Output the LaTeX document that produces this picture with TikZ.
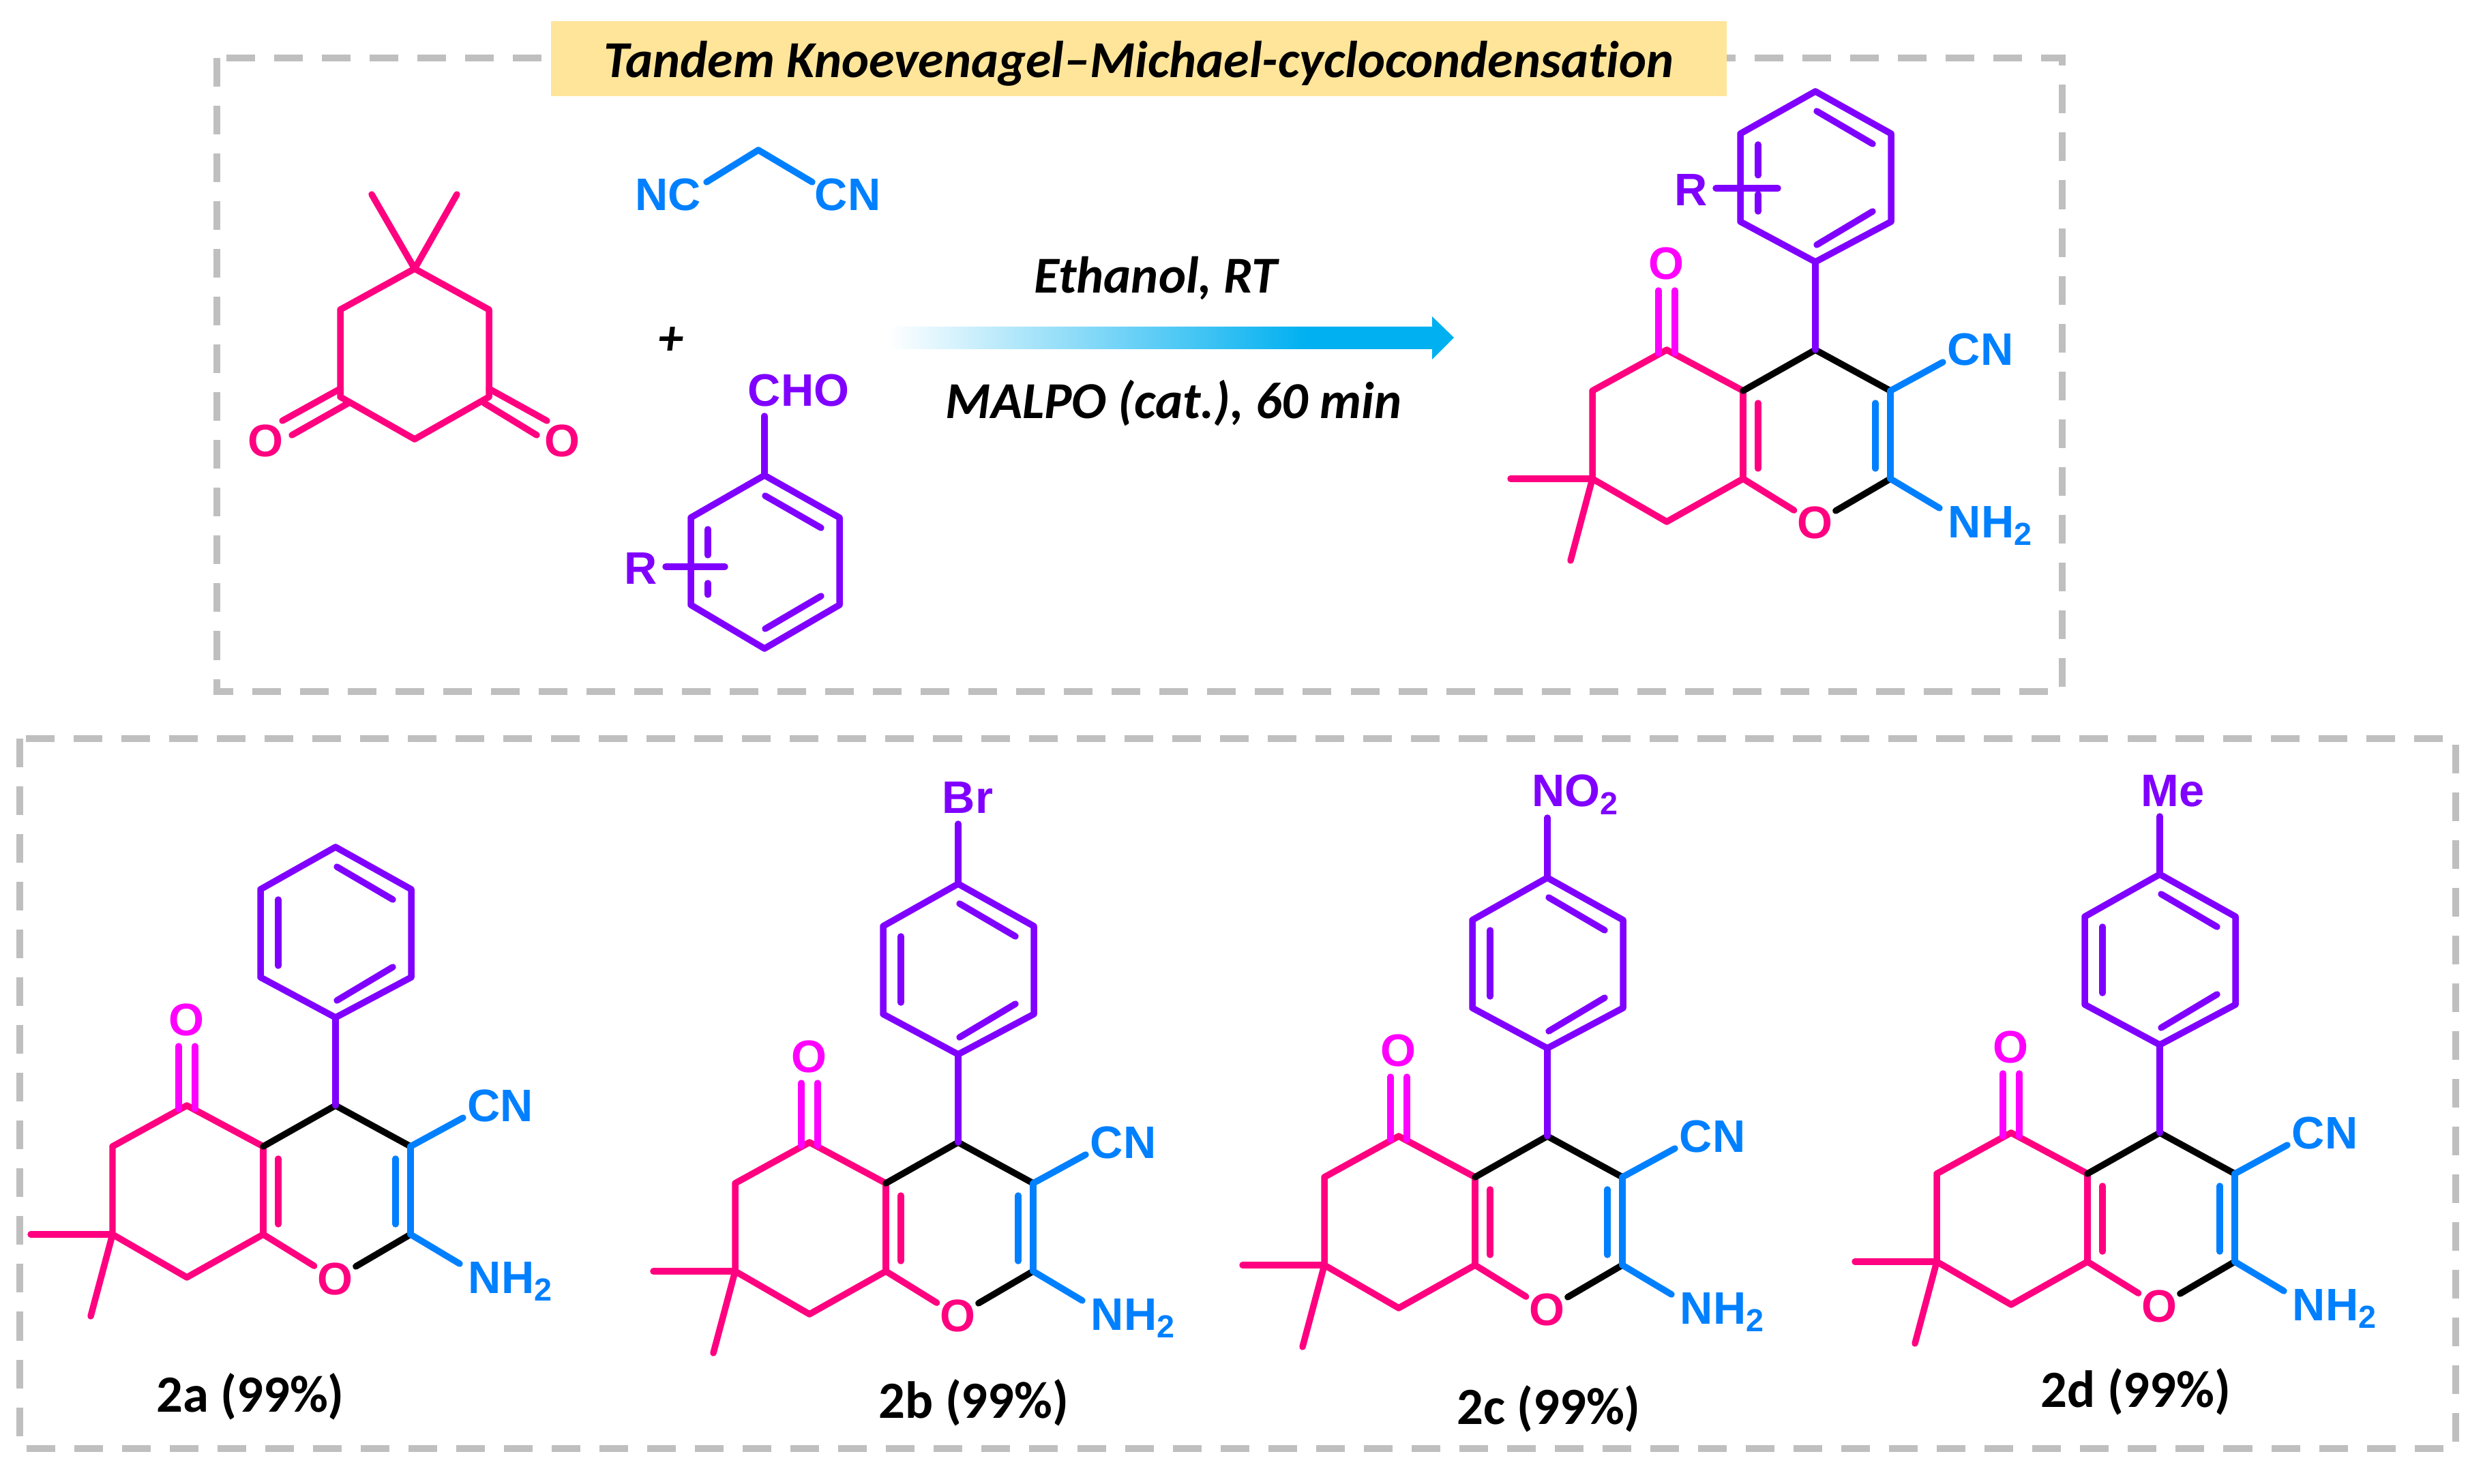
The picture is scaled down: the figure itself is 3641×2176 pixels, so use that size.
\documentclass[tikz,border=0pt]{standalone}
\usepackage{fontspec}
\setmainfont[Ligatures=CommonOff]{Carlito}
\newfontfamily\chemfont{Liberation Sans}
\usepackage{xcolor}
\usepackage{tikz}
\usetikzlibrary{shapes,arrows,positioning}
\definecolor{ringpink}{RGB}{255,0,128}
\definecolor{ketomagenta}{RGB}{255,0,255}
\definecolor{arylpurple}{RGB}{128,0,255}
\definecolor{nitrileblue}{RGB}{0,128,255}
\definecolor{framegray}{RGB}{191,191,191}
\definecolor{titleyellow}{RGB}{255,229,153}
\definecolor{arrowcyan}{RGB}{0,176,240}
\pgfdeclarehorizontalshading{arrowfade}{100bp}{color(0bp)=(white); color(25bp)=(white); color(62bp)=(arrowcyan); color(100bp)=(arrowcyan)}

\begin{document}
\begin{tikzpicture}[
    x=0.01cm, y=-0.01cm,
    bond/.style={line width=2.7pt, line cap=round, line join=round},
    pinkbond/.style={bond, ringpink},
    magentabond/.style={bond, ketomagenta},
    purplebond/.style={bond, arylpurple},
    bluebond/.style={bond, nitrileblue},
    blackbond/.style={bond, black},
    frame/.style={framegray, line width=2.6pt, dash pattern=on 0.42cm off 0.28cm},
    atom/.style={font=\chemfont\bfseries\fontsize{19}{21}\selectfont, inner sep=0pt},
    pinkatom/.style={atom, circle, ringpink},
    magentaatom/.style={atom, ketomagenta},
    purpleatom/.style={atom, arylpurple},
    blueatom/.style={atom, nitrileblue},
    caption/.style={font=\bfseries\fontsize{21.8}{24}\selectfont, inner sep=0pt},
    condition/.style={font=\bfseries\itshape\fontsize{21.6}{24}\selectfont, inner sep=0pt}
]
\useasboundingbox (0,0) rectangle (3641,2176);

\draw[frame] (318,85) rectangle (3024,1014);
\draw[frame] (29,1083) rectangle (3601,2124);

\node[fill=titleyellow, minimum width=1724*0.01cm, minimum height=110*0.01cm, inner sep=0pt] (title) at (1670,86) {};
\node[condition] (titletext) at (1670,93) {Tandem Knoevenagel--Michael-cyclocondensation};

% dimedone
\coordinate (dm1) at (608,394);
\coordinate (dm2) at (717,454);
\coordinate (dm3) at (717,582);
\coordinate (dm4) at (608,644);
\coordinate (dm5) at (499,582);
\coordinate (dm6) at (499,454);
\coordinate (dmme1) at (545,285);
\coordinate (dmme2) at (670,285);
\node[atom, ringpink] (dmo1) at (389,646) {O};
\node[atom, ringpink] (dmo2) at (824,646) {O};
\draw[pinkbond] (dm1) -- (dm2) -- (dm3) -- (dm4) -- (dm5) -- (dm6) -- cycle;
\draw[pinkbond] (dm1) -- (dmme1);
\draw[pinkbond] (dm1) -- (dmme2);
\draw[pinkbond] (414,617) -- (499,570);
\draw[pinkbond] (428,638) -- (511,591);
\draw[pinkbond] (717,570) -- (802,617);
\draw[pinkbond] (710,591) -- (787,638);

% malononitrile
\node[blueatom] (ncl) at (980,286) {NC};
\node[blueatom] (ncr) at (1243,286) {CN};
\coordinate (ch2) at (1112,220);
\coordinate (ncend1) at (1036,267);
\coordinate (ncend2) at (1191,267);
\draw[bluebond] (ncend1) -- (ch2) -- (ncend2);

\node[font=\bfseries\itshape\fontsize{21}{24}\selectfont, inner sep=0pt] (plus) at (984,500) {+};

% aldehyde
\coordinate (ar1) at (1121,697);
\coordinate (ar2) at (1231,759);
\coordinate (ar3) at (1231,887);
\coordinate (ar4) at (1121,951);
\coordinate (ar5) at (1013,887);
\coordinate (ar6) at (1013,759);
\coordinate (choend) at (1121,610);
\node[purpleatom] (cho) at (1171,573) {CHO};
\node[purpleatom] (arr) at (940,834) {R};
\coordinate (arrend) at (1063,831);
\draw[purplebond] (ar1) -- (ar2) -- (ar3) -- (ar4) -- (ar5) -- (ar6) -- cycle;
\draw[purplebond] (choend) -- (ar1);
\draw[purplebond] (1122,727) -- (1204,774);
\draw[purplebond] (1204,874) -- (1122,922);
\draw[purplebond] (1038,776) -- (1038,814);
\draw[purplebond] (1038,855) -- (1038,872);
\draw[purplebond] (976,831) -- (arrend);

% arrow
\shade[shading=arrowfade] (1302,479) -- (2100,479) -- (2100,464) -- (2132,495) -- (2100,527) -- (2100,512) -- (1302,512) -- cycle;
\node[condition] (solvent) at (1695,408) {Ethanol, RT};
\node[condition] (catalyst) at (1721,591) {MALPO (cat.), 60 min};

% chromene core, all five products
\foreach \nm/\cx/\cy in {top/2662/513, a/492/1621, b/1405/1675, c/2269/1666, d/3167/1661}{
\begin{scope}[shift={(\cx,\cy)}, name prefix=\nm-]
    \coordinate (c4) at (0,0);
    \coordinate (c4a) at (-106,60);
    \coordinate (c3) at (110,60);
    \coordinate (c8a) at (-106,189);
    \coordinate (c2) at (110,189);
    \coordinate (c5) at (-218,0);
    \coordinate (c6) at (-327,60);
    \coordinate (c7) at (-327,189);
    \coordinate (c8) at (-218,252);
    \coordinate (me1) at (-447,189);
    \coordinate (me2) at (-359,309);
    \coordinate (ph1) at (0,-129);
    \coordinate (ph2) at (111,-188);
    \coordinate (ph3) at (111,-317);
    \coordinate (ph4) at (0,-379);
    \coordinate (ph5) at (-110,-317);
    \coordinate (ph6) at (-110,-188);
    \coordinate (cnend) at (187,18);
    \coordinate (nhend) at (182,232);
    \node[pinkatom] (o1) at (-1,254) {O};
    \node[magentaatom] (o5) at (-219,-126) {O};
    \node[blueatom] (cn) at (242,0) {CN};
    \node[blueatom] (nh) at (257,258) {NH\textsubscript{2}};
    \draw[pinkbond] (c4a) -- (c5) -- (c6) -- (c7) -- (c8) -- (c8a);
    \draw[pinkbond] (c7) -- (me1);
    \draw[pinkbond] (c7) -- (me2);
    \draw[pinkbond] (c4a) -- (c8a);
    \draw[pinkbond] (-84,78) -- (-84,174);
    \draw[pinkbond] (c8a) -- (o1);
    \draw[blackbond] (c4a) -- (c4) -- (c3);
    \draw[blackbond] (o1) -- (c2);
    \draw[bluebond] (c3) -- (c2);
    \draw[bluebond] (88,78) -- (88,174);
    \draw[bluebond] (c3) -- (cnend);
    \draw[bluebond] (c2) -- (nhend);
    \draw[magentabond] (-230,-87) -- (-230,5);
    \draw[magentabond] (-206,-87) -- (-206,5);
    \draw[purplebond] (ph1) -- (ph2) -- (ph3) -- (ph4) -- (ph5) -- (ph6) -- cycle;
    \draw[purplebond] (c4) -- (ph1);
    \draw[purplebond] (2,-350) -- (84,-302);
    \draw[purplebond] (84,-203) -- (2,-154);
\end{scope}
}

% left inner bond of the ring
\foreach \nm in {a,b,c,d}{
\begin{scope}[shift={(\nm-c4)}]
    \draw[purplebond] (-84,-302) -- (-84,-205);
\end{scope}
}
\draw[purplebond] (2578,212) -- (2578,257);
\draw[purplebond] (2578,285) -- (2578,310);

% substituents
\node[purpleatom] (topr) at (2480,279) {R};
\draw[purplebond] (2516,276) -- (2607,276);
\node[purpleatom] (br) at (1419,1170) {Br};
\draw[purplebond] (b-ph4) -- (1405,1208);
\node[purpleatom] (no2) at (2310,1165) {NO\textsubscript{2}};
\draw[purplebond] (c-ph4) -- (2269,1199);
\node[purpleatom] (me) at (3186,1160) {Me};
\draw[purplebond] (d-ph4) -- (3167,1197);

\node[caption] (cpa) at (367,2048) {2a (99\%)};
\node[caption] (cpb) at (1428,2057) {2b (99\%)};
\node[caption] (cpc) at (2271,2066) {2c (99\%)};
\node[caption] (cpd) at (3132,2041) {2d (99\%)};

\end{tikzpicture}
\end{document}
